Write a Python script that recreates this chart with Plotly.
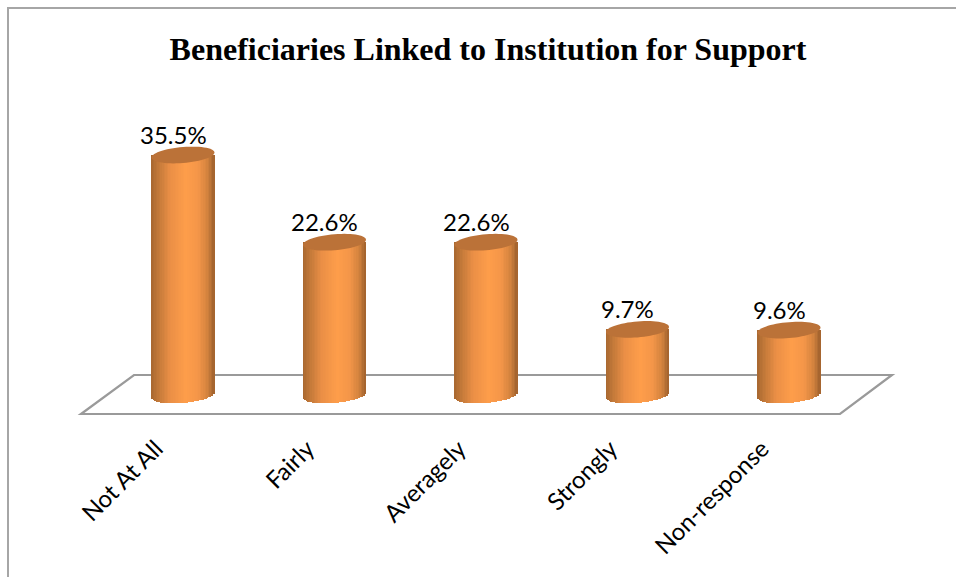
import numpy as np
import plotly.graph_objects as go

categories = ["Not At All", "Fairly", "Averagely", "Strongly", "Non-response"]
values = [35.5, 22.6, 22.6, 9.7, 9.6]
labels = ["35.5%", "22.6%", "22.6%", "9.7%", "9.6%"]
title_text = "Beneficiaries Linked to Institution for Support"

W, H = 956, 577
PX_X0, PX_DX = 183.0, 151.5     # pixel of first category, pixels per category
PX_Y0, PX_DY = 395.0, 6.76      # pixel of value 0, pixels per unit
FLOOR_PX = 414.0

idx = list(range(len(categories)))
xr = [(0 - PX_X0) / PX_DX, (W - PX_X0) / PX_DX]
yr = [(PX_Y0 - FLOOR_PX) / PX_DY, PX_Y0 / PX_DY]

BAR_W = 63 / PX_DX
HH = 1.18     # half height of the cylinder's ellipse, value units
TILT = 0.37   # rise of the ellipse from centre to right edge

stops_u = [-1.0, -0.75, -0.4, 0.1, 0.5, 0.8, 1.0]
stops_r = [0xa8, 0xc4, 0xea, 0xff, 0xf4, 0xd2, 0xa0]
stops_g = [0x68, 0x7a, 0x8f, 0x9e, 0x96, 0x82, 0x62]
stops_b = [0x30, 0x3a, 0x46, 0x4b, 0x49, 0x3e, 0x2e]

fig = go.Figure()
K = 40
vals = np.array(values)
for j in range(K):
    u = -1 + (2 * j + 1) / K
    col = "rgb(%d,%d,%d)" % (
        np.interp(u, stops_u, stops_r),
        np.interp(u, stops_u, stops_g),
        np.interp(u, stops_u, stops_b),
    )
    base = -HH * np.sqrt(1 - u * u) + TILT * u
    fig.add_trace(go.Bar(
        x=idx, y=(vals - base).tolist(), base=[float(base)] * len(idx),
        width=BAR_W / K * 1.06, offset=-BAR_W / 2 + j * BAR_W / K,
        marker=dict(color=col, line=dict(width=0)),
        showlegend=False, hoverinfo="skip",
    ))

shapes = []
t = np.linspace(0, 2 * np.pi, 61)
for i, v in zip(idx, values):
    xs = i + BAR_W / 2 * np.cos(t)
    ys = v + HH * np.sin(t) + TILT * np.cos(t)
    path = "M " + " L ".join(f"{a:.4f},{b:.4f}" for a, b in zip(xs, ys)) + " Z"
    shapes.append(dict(type="path", path=path, xref="x", yref="y", layer="above",
                       fillcolor="#bb7238", line=dict(width=0)))


def px(x, y):
    return f"{x / W:.5f},{1 - y / H:.5f}"


floor = "M " + px(81, 414) + " L " + px(134, 375) + " L " + px(892, 375) + " L " + px(840, 414) + " Z"
shapes.append(dict(type="path", path=floor, xref="paper", yref="paper", layer="below",
                   fillcolor="white", line=dict(color="#9a9a9a", width=2.2)))
frame = "M " + px(956, 8) + " L " + px(8, 8) + " L " + px(8, 577)
shapes.append(dict(type="path", path=frame, xref="paper", yref="paper", layer="below",
                   line=dict(color="#a6a6a6", width=2)))

annotations = [
    dict(x=i, y=v + HH, text=s, showarrow=False, xanchor="center", yanchor="bottom",
         xshift=-10, yshift=-4, font=dict(family="Lato", size=24, color="black"))
    for i, v, s in zip(idx, values, labels)
]

fig.update_layout(
    width=W, height=H, margin=dict(l=0, r=0, t=0, b=0), autosize=False,
    paper_bgcolor="white", plot_bgcolor="rgba(0,0,0,0)", barmode="overlay", bargap=0,
    title=dict(text=title_text, x=488 / W, xanchor="center", y=1 - 49 / H, yanchor="middle",
               font=dict(family="Liberation Serif", size=32, color="black", weight="bold")),
    xaxis=dict(domain=[0, 1], range=xr, tickmode="array", tickvals=idx, ticktext=categories,
               tickangle=-45, showgrid=False, zeroline=False, showline=False, ticks="",
               ticklabelshift=-27, ticklabelstandoff=15,
               tickfont=dict(family="Lato", size=24, color="black")),
    yaxis=dict(domain=[1 - FLOOR_PX / H, 1], range=yr, visible=False, showgrid=False, zeroline=False),
    shapes=shapes, annotations=annotations,
)
fig.write_html("out.html", post_script="document.body.style.margin='0';",
               config={"displayModeBar": False})
